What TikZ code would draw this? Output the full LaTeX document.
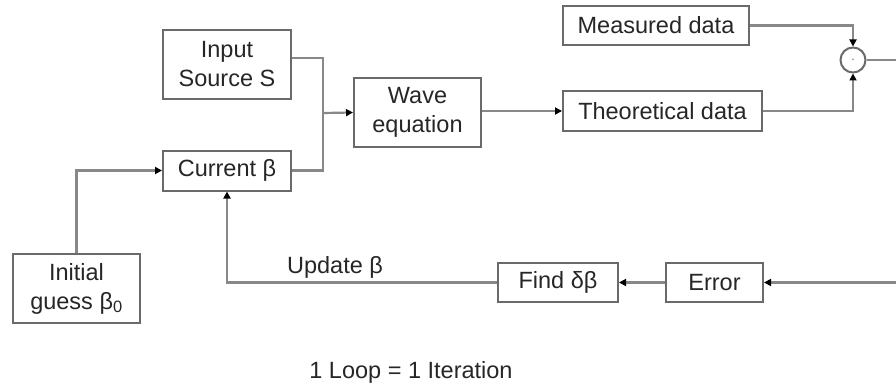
\documentclass[tikz,border=0pt]{standalone}
\usepackage{fontspec}
\setmainfont{Liberation Sans}
\usetikzlibrary{arrows.meta}
\definecolor{boxgray}{HTML}{6A6A6A}
\definecolor{linegray}{HTML}{888888}
\begin{document}
\begin{tikzpicture}[x=1pt,y=-1pt,
  blk/.style={draw=boxgray,line width=2pt,rectangle,inner sep=0pt,align=center,
    font=\fontsize{23.5}{29}\selectfont,text=black!85},
  conn/.style={draw=linegray,line width=2.2pt},
  arr/.style={conn,-{Triangle[length=7pt,width=7pt,color=black]}},
  lbl/.style={font=\fontsize{23.5}{28}\selectfont,text=black!85}]
\useasboundingbox (0,0) rectangle (896,385);
\node[blk,minimum width=128pt,minimum height=69pt] (inp) at (227,64.5) {Input\\Source S};
\node[blk,minimum width=128pt,minimum height=40pt] (cur) at (227,170.5) {Current β};
\node[blk,minimum width=127pt,minimum height=69pt] (wave) at (417.5,112.5) {Wave\\equation};
\node[blk,minimum width=186pt,minimum height=39pt] (meas) at (656,25.5) {Measured data};
\node[blk,minimum width=199pt,minimum height=40pt] (theo) at (662.5,111) {Theoretical data};
\node[draw=boxgray,line width=2pt,circle,minimum size=25pt,inner sep=0pt,font=\fontsize{7}{7}\selectfont] (circ) at (853,60) {-};
\node[blk,minimum width=97pt,minimum height=39pt] (err) at (714.5,282.5) {Error};
\node[blk,minimum width=120pt,minimum height=39pt] (find) at (558,282.5) {Find δβ};
\node[blk,minimum width=127pt,minimum height=69pt] (init) at (76.5,288.5) {Initial\\guess β\textsubscript{0}};
\coordinate (j) at (323,113);
\coordinate (out) at (896,60);
\coordinate (ein) at (896,282.5);
\draw[conn] ([yshift=6.5pt]inp.east) -| (j);
\draw[conn] (cur.east) -| (j);
\draw[arr] (j) -- (wave.west);
\draw[arr] (wave.east |- theo.west) -- (theo.west);
\draw[arr] (meas.east) -| (circ.north);
\draw[arr] (theo.east) -| (circ.south);
\draw[conn] (circ.east) -- (out);
\draw[arr] (ein) -- (err.east);
\draw[arr] (err.west) -- (find.east);
\draw[arr] (find.west) -| (cur.south);
\draw[arr] (init.north) |- (cur.west);
\node[lbl] (upd) at (335,267) {Update β};
\node[lbl] (loop) at (411,372) {1 Loop = 1 Iteration};
\end{tikzpicture}
\end{document}
